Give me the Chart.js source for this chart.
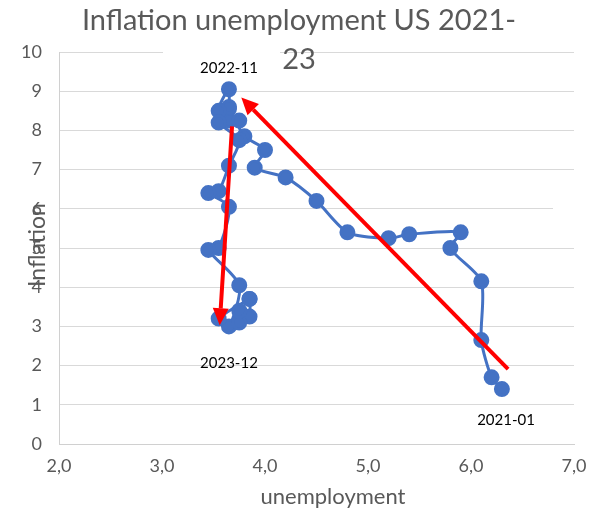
<!DOCTYPE html>
<html>
<head>
<meta charset="utf-8">
<script src="https://cdn.jsdelivr.net/npm/chart.js@4.4.0/dist/chart.umd.min.js"></script>
<style>
  html, body { margin: 0; padding: 0; background: #fff; }
  #wrap { width: 592px; height: 513px; }
</style>
</head>
<body>
<div id="wrap"><canvas id="myChart"></canvas></div>
<script>
// monthly unemployment rate (%) and CPI inflation (%), Jan 2021 - Dec 2023
const months = [
    '2021-01','2021-02','2021-03','2021-04','2021-05','2021-06','2021-07','2021-08','2021-09','2021-10','2021-11','2021-12',
    '2022-01','2022-02','2022-03','2022-04','2022-05','2022-06','2022-07','2022-08','2022-09','2022-10','2022-11','2022-12',
    '2023-01','2023-02','2023-03','2023-04','2023-05','2023-06','2023-07','2023-08','2023-09','2023-10','2023-11','2023-12'
];
const unemployment = [
    6.3, 6.2, 6.1, 6.1, 5.8, 5.9, 5.4, 5.2, 4.8, 4.5, 4.2, 3.9,
    4.0, 3.8, 3.65, 3.65, 3.65, 3.65, 3.55, 3.75, 3.55, 3.75, 3.65, 3.55,
    3.45, 3.65, 3.55, 3.45, 3.75, 3.65, 3.55, 3.85, 3.85, 3.85, 3.75, 3.75
];
const inflation = [
    1.4, 1.7, 2.65, 4.15, 5.0, 5.4, 5.35, 5.25, 5.4, 6.2, 6.8, 7.05,
    7.5, 7.85, 8.55, 8.25, 8.6, 9.05, 8.5, 8.25, 8.2, 7.75, 7.1, 6.45,
    6.4, 6.05, 5.0, 4.95, 4.05, 3.0, 3.2, 3.7, 3.7, 3.25, 3.1, 3.4
];

// trend arrows: [x0, y0, x1, y1], head at the second point
const arrows = [
    [6.36, 1.91, 3.77, 8.84],
    [3.68, 8.10, 3.56, 3.03]
];

// text notes placed at data coordinates
const notes = [
    { text: '2022-11', x: 3.65, y: 9.6 },
    { text: '2023-12', x: 3.65, y: 2.05 },
    { text: '2021-01', x: 6.34, y: 0.6 }
];

const points = unemployment.map((u, i) => ({ x: u, y: inflation[i] }));

const gray = '#595959';

const extras = {
    id: 'extras',
    beforeDatasetsDraw(chart) {
        const ctx = chart.ctx;
        const ys = chart.scales.y;
        ctx.save();
        ctx.fillStyle = '#fff';
        // white box behind the wrapped title line
        ctx.fillRect(163, 44, 117, 16);
        // small gap at the right end of the 6 gridline
        ctx.fillRect(553, ys.getPixelForValue(6) - 2, 24, 4);
        ctx.restore();
    },
    afterDraw(chart) {
        const ctx = chart.ctx;
        const xs = chart.scales.x, ys = chart.scales.y;

        // red arrows
        ctx.save();
        ctx.strokeStyle = '#ff0000';
        ctx.fillStyle = '#ff0000';
        ctx.lineWidth = 4;
        arrows.forEach(a => {
            const x0 = xs.getPixelForValue(a[0]), y0 = ys.getPixelForValue(a[1]);
            const x1 = xs.getPixelForValue(a[2]), y1 = ys.getPixelForValue(a[3]);
            const ang = Math.atan2(y1 - y0, x1 - x0);
            const hl = 17, hw = 8;
            const bx = x1 - hl * Math.cos(ang), by = y1 - hl * Math.sin(ang);
            ctx.beginPath();
            ctx.moveTo(x0, y0);
            ctx.lineTo(bx, by);
            ctx.stroke();
            ctx.beginPath();
            ctx.moveTo(x1, y1);
            ctx.lineTo(bx + hw * Math.sin(ang), by - hw * Math.cos(ang));
            ctx.lineTo(bx - hw * Math.sin(ang), by + hw * Math.cos(ang));
            ctx.closePath();
            ctx.fill();
        });
        ctx.restore();

        // month notes
        ctx.save();
        ctx.fillStyle = '#000';
        ctx.font = '15px Lato';
        ctx.textAlign = 'center';
        ctx.textBaseline = 'middle';
        notes.forEach(n => {
            ctx.fillText(n.text, xs.getPixelForValue(n.x), ys.getPixelForValue(n.y));
        });
        ctx.restore();

        // title, wrapped on two lines
        ctx.save();
        ctx.fillStyle = gray;
        ctx.font = '29px Lato';
        ctx.textAlign = 'center';
        ctx.textBaseline = 'middle';
        ctx.fillText('Inflation unemployment US 2021-', 299, 21);
        ctx.fillText('23', 299, 60);
        ctx.restore();

        // axis titles
        ctx.save();
        ctx.fillStyle = gray;
        ctx.font = '22px Lato';
        ctx.textAlign = 'center';
        ctx.textBaseline = 'middle';
        ctx.fillText('unemployment', 333, 497);
        ctx.translate(38, 245);
        ctx.rotate(-Math.PI / 2);
        ctx.font = '23px Lato';
        ctx.fillText('Inflation', 0, 0);
        ctx.restore();
    }
};

const ctx = document.getElementById('myChart').getContext('2d');
new Chart(ctx, {
    type: 'scatter',
    data: {
        datasets: [{
            label: 'Inflation',
            data: points,
            showLine: true,
            tension: 0.25,
            borderColor: '#4472c4',
            backgroundColor: '#4472c4',
            borderWidth: 3,
            pointRadius: 6.5,
            pointHoverRadius: 6.5
        }]
    },
    options: {
        responsive: true,
        maintainAspectRatio: false,
        animation: false,
        layout: { padding: { top: 52, right: 18, left: 0, bottom: 0 } },
        plugins: {
            legend: { display: false },
            tooltip: { enabled: false }
        },
        scales: {
            x: {
                type: 'linear',
                min: 2,
                max: 7,
                afterFit: s => {
                    s.height = 69;
                    s.paddingLeft = 0;
                    s.paddingRight = 0;
                },
                grid: { display: false, drawTicks: false },
                border: { display: true, color: '#d0d0d0', width: 1 },
                ticks: {
                    stepSize: 1,
                    padding: 11,
                    color: gray,
                    font: { family: 'Lato', size: 18 },
                    callback: v => v.toFixed(1).replace('.', ',')
                }
            },
            y: {
                min: 0,
                max: 10,
                afterFit: s => {
                    s.width = 59;
                    s.paddingTop = 0;
                    s.paddingBottom = 0;
                },
                grid: { color: '#d9d9d9', lineWidth: 1, drawTicks: false },
                border: { display: true, color: '#d0d0d0', width: 1 },
                ticks: {
                    stepSize: 1,
                    padding: 17,
                    color: gray,
                    font: { family: 'Lato', size: 18 }
                }
            }
        }
    },
    plugins: [extras]
});
</script>
</body>
</html>
